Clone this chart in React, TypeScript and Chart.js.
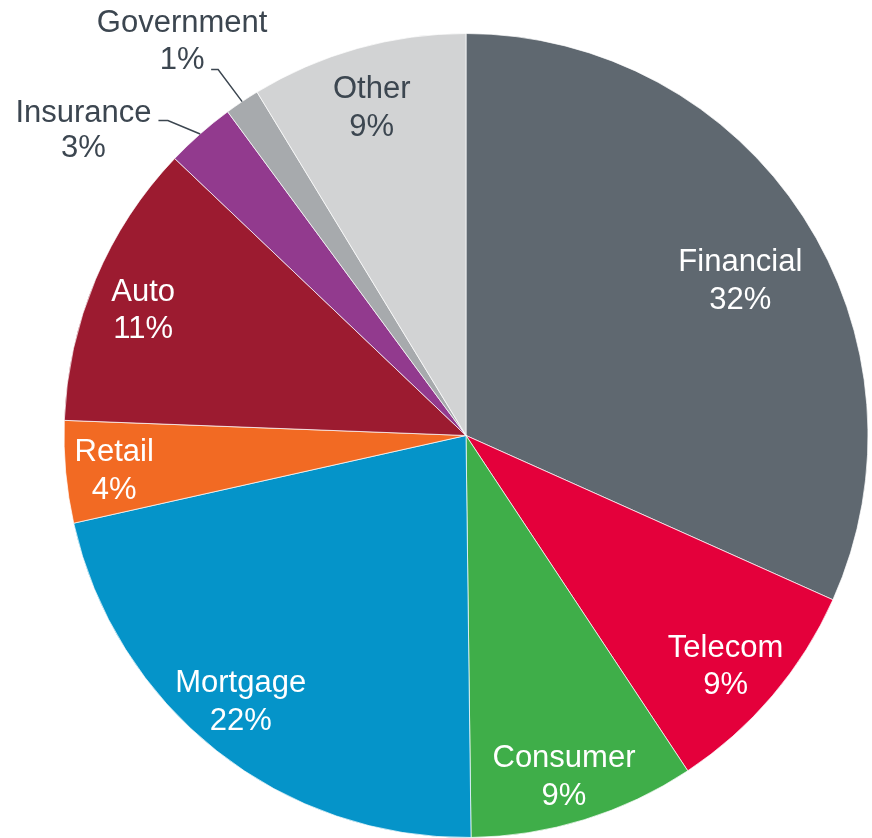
import React, { useEffect, useRef } from 'react';
import { Chart, registerables } from 'chart.js';

Chart.register(...registerables);

const categories = ['Financial', 'Telecom', 'Consumer', 'Mortgage', 'Retail', 'Auto', 'Insurance', 'Government', 'Other'];
const shares = [31.7, 9.0, 9.1, 21.7, 4.1, 11.5, 2.8, 1.4, 8.7];
const shareLabels = ['32%', '9%', '9%', '22%', '4%', '11%', '3%', '1%', '9%'];
const sliceColors = ['#5f6870', '#e4003b', '#3fae49', '#0594c9', '#f26a23', '#9c1b30', '#923a8e', '#a7aaad', '#d2d3d4'];

const DARK = '#3c4650';
const FONT = '31px "Liberation Sans", Arial, sans-serif';
const LINE_GAP = 37.5;
const CAP_OFFSET = 7.65;

// label placement: radial fraction + angle offset (deg) for inner labels; leader config for outer
const labelLayout: Record<string, any> = {
  Financial: { f: 0.786, da: 3.2, color: '#ffffff' },
  Telecom: { f: 0.861, da: 1.1, color: '#ffffff' },
  Consumer: { f: 0.879, da: 1.0, color: '#ffffff' },
  Mortgage: { f: 0.864, da: 2.1, color: '#ffffff' },
  Retail: { f: 0.879, da: -0.2, color: '#ffffff' },
  Auto: { f: 0.863, da: -1.4, color: '#ffffff' },
  Other: { f: 0.853, da: -0.3, color: DARK },
  Insurance: { outside: true, elbow: [-32.3, -13.4], tail: 9.4, textDx: -75, b1: 1, b2: 36 },
  Government: { outside: true, elbow: [-24, -32], tail: 7, textDx: -29, b1: -37.3, b2: -1 },
};

const labelPlugin = {
  id: 'sliceLabels',
  afterDatasetsDraw(chart: any) {
    const ctx = chart.ctx;
    const meta = chart.getDatasetMeta(0);
    ctx.save();
    ctx.font = FONT;
    ctx.textAlign = 'center';
    ctx.textBaseline = 'alphabetic';
    meta.data.forEach((arc: any, i: number) => {
      const { x, y, startAngle, endAngle, outerRadius } = arc.getProps(
        ['x', 'y', 'startAngle', 'endAngle', 'outerRadius'],
        true
      );
      const name = categories[i];
      const lay = labelLayout[name] || { f: 0.87, da: 0, color: '#ffffff' };
      const mid = (startAngle + endAngle) / 2;
      if (lay.outside) {
        const ex = x + Math.cos(mid) * outerRadius;
        const ey = y + Math.sin(mid) * outerRadius;
        const kx = ex + lay.elbow[0];
        const ky = ey + lay.elbow[1];
        const tx = kx - lay.tail;
        ctx.strokeStyle = DARK;
        ctx.lineWidth = 1.5;
        ctx.beginPath();
        ctx.moveTo(ex, ey);
        ctx.lineTo(kx, ky);
        ctx.lineTo(tx, ky);
        ctx.stroke();
        ctx.fillStyle = DARK;
        const cx = tx + lay.textDx;
        ctx.fillText(name, cx, ky + lay.b1);
        ctx.fillText(shareLabels[i], cx, ky + lay.b2);
      } else {
        const a = mid + (lay.da * Math.PI) / 180;
        const r = outerRadius * lay.f;
        const cx = x + Math.cos(a) * r;
        const cy = y + Math.sin(a) * r;
        const b1 = cy - CAP_OFFSET;
        ctx.fillStyle = lay.color;
        ctx.fillText(name, cx, b1);
        ctx.fillText(shareLabels[i], cx, b1 + LINE_GAP);
      }
    });
    ctx.restore();
  },
};

export default function App() {
  const canvasRef = useRef<HTMLCanvasElement | null>(null);

  useEffect(() => {
    if (!canvasRef.current) return;
    const chart = new Chart(canvasRef.current, {
      type: 'pie',
      data: {
        labels: categories,
        datasets: [
          {
            data: shares,
            backgroundColor: sliceColors,
            borderColor: 'rgba(255,255,255,0.7)',
            borderWidth: 1,
          },
        ],
      },
      options: {
        responsive: false,
        animation: false,
        layout: { padding: { left: 63.5, top: 33, right: 3.5, bottom: 0 } },
        plugins: {
          legend: { display: false },
          tooltip: { enabled: false },
          title: { display: false },
        },
      },
      plugins: [labelPlugin],
    });
    return () => chart.destroy();
  }, []);

  return (
    <div style={{ position: 'absolute', left: 0, top: 0, width: 872, height: 838, background: '#ffffff' }}>
      <canvas ref={canvasRef} width={872} height={838} style={{ display: 'block' }} />
    </div>
  );
}
